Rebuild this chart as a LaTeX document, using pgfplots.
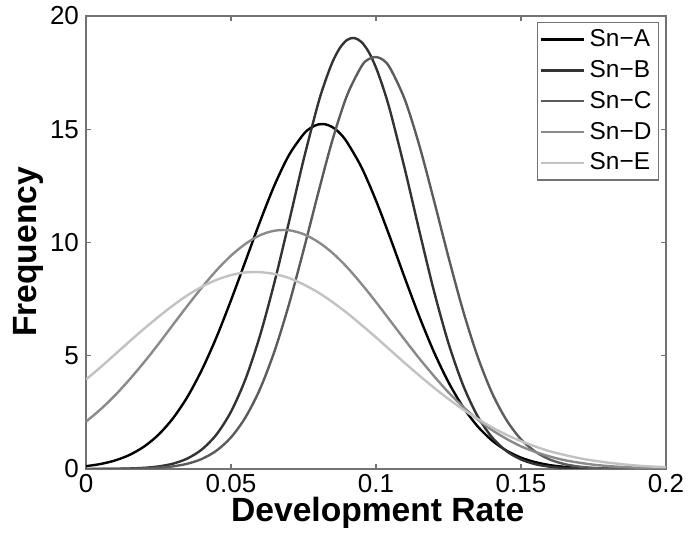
\documentclass[border=0pt]{standalone}
\usepackage{pgfplots}
\pgfplotsset{compat=1.18}
\usepackage{fontspec}
\setmainfont{Liberation Sans}

\definecolor{snA}{gray}{0.0}
\definecolor{snB}{gray}{0.2}
\definecolor{snC}{gray}{0.36}
\definecolor{snD}{gray}{0.54}
\definecolor{snE}{gray}{0.76}
\definecolor{axgray}{gray}{0.45}

\begin{document}
\begin{tikzpicture}
\begin{axis}[
    scale only axis,
    width=290pt, height=226.5pt,
    xmin=0, xmax=0.2, ymin=0, ymax=20,
    xtick={0,0.05,0.1,0.15,0.2},
    xticklabels={0,0.05,0.1,0.15,0.2},
    ytick={0,5,10,15,20},
    tick align=inside,
    major tick length=2.5pt,
    axis line style={axgray, line width=0.6pt},
    every tick/.style={axgray, line width=0.6pt},
    /pgf/number format/assume math mode=true,
    tick label style={font=\fontsize{13}{13}\selectfont},
    xticklabel style={yshift=1pt},
    xlabel={Development Rate},
    ylabel={Frequency},
    label style={font=\fontsize{16.8}{16.8}\selectfont\bfseries},
    xlabel style={at={(axis description cs:0.503,-0.097)}, anchor=center},
    ylabel style={at={(axis description cs:-0.1,0.479)}, anchor=center},
    legend style={at={(1,1)}, anchor=north east, xshift=-3.5pt, yshift=-3pt,
        font=\fontsize{12.2}{15}\selectfont, draw=axgray, line width=0.6pt,
        inner sep=1.5pt, row sep=1.4pt},
    legend cell align=left,
    legend image code/.code={\draw[#1, line width=1.2pt] (0pt,0pt) -- (21.5pt,0pt);},
    every axis plot/.append style={line width=1.2pt, smooth},
]
% Sn-A
\addplot[snA] coordinates {
(0,0.124) (0.005,0.220) (0.010,0.376) (0.015,0.621) (0.020,0.987)
(0.025,1.514) (0.030,2.24) (0.035,3.19) (0.040,4.39) (0.045,5.82)
(0.050,7.45) (0.055,9.18) (0.060,10.92) (0.065,12.53) (0.070,13.86)
(0.075,14.78) (0.0775,15.06) (0.080,15.21) (0.0825,15.22) (0.085,15.09)
(0.0875,14.83) (0.090,14.43)
(0.095,13.32) (0.100,11.85) (0.105,10.17) (0.110,8.41) (0.115,6.71)
(0.120,5.16) (0.125,3.83) (0.130,2.74) (0.135,1.89) (0.140,1.26)
(0.145,0.81) (0.150,0.50) (0.155,0.30) (0.160,0.17) (0.165,0.095)
(0.170,0.051) (0.175,0.026) (0.180,0.013) (0.185,0.006) (0.190,0.003)
(0.195,0.001) (0.200,0.0005)
};
\addlegendentry{Sn−A}
% Sn-B
\addplot[snB] coordinates {
(0,0.0012) (0.005,0.0034) (0.010,0.0088) (0.015,0.022) (0.020,0.051)
(0.025,0.113) (0.030,0.236) (0.035,0.465) (0.040,0.867) (0.045,1.524)
(0.050,2.53) (0.055,3.97) (0.060,5.89) (0.065,8.25) (0.070,10.91)
(0.075,13.64) (0.080,16.11) (0.0825,17.12) (0.085,17.97) (0.0875,18.58)
(0.090,18.94) (0.0925,19.03) (0.095,18.85) (0.0975,18.41) (0.100,17.72)
(0.1025,16.82) (0.105,15.75) (0.110,13.21) (0.115,10.48)
(0.120,7.85) (0.125,5.55) (0.130,3.71) (0.135,2.34) (0.140,1.40)
(0.145,0.79) (0.150,0.42) (0.155,0.21) (0.160,0.10) (0.165,0.045)
(0.170,0.019) (0.175,0.008) (0.180,0.003) (0.185,0.001) (0.190,0.0004)
(0.195,0.0001) (0.200,0)
};
\addlegendentry{Sn−B}
% Sn-C
\addplot[snC] coordinates {
(0,0.0006) (0.005,0.0016) (0.010,0.0042) (0.015,0.0105) (0.020,0.0247)
(0.025,0.055) (0.030,0.117) (0.035,0.234) (0.040,0.447) (0.045,0.811)
(0.050,1.395) (0.055,2.28) (0.060,3.53) (0.065,5.20) (0.070,7.27)
(0.075,9.65) (0.080,12.15) (0.085,14.53) (0.090,16.49) (0.095,17.78)
(0.0975,18.10) (0.100,18.19) (0.1025,18.06) (0.105,17.67) (0.110,16.29)
(0.115,14.26) (0.120,11.85)
(0.125,9.35) (0.130,7.00) (0.135,4.98) (0.140,3.36) (0.145,2.16)
(0.150,1.31) (0.155,0.76) (0.160,0.415) (0.165,0.216) (0.170,0.107)
(0.175,0.050) (0.180,0.022) (0.185,0.0095) (0.190,0.004) (0.195,0.0015)
(0.200,0.0006)
};
\addlegendentry{Sn−C}
% Sn-D
\addplot[snD] coordinates {
(0,2.09) (0.005,2.63) (0.010,3.25) (0.015,3.95) (0.020,4.71)
(0.025,5.52) (0.030,6.37) (0.035,7.21) (0.040,8.02) (0.045,8.77)
(0.050,9.42) (0.055,9.94) (0.060,10.32) (0.065,10.52)
(0.070,10.54) (0.075,10.37) (0.080,10.03) (0.085,9.54) (0.090,8.91)
(0.095,8.17) (0.100,7.37) (0.105,6.53) (0.110,5.69) (0.115,4.87)
(0.120,4.10) (0.125,3.38) (0.130,2.75) (0.135,2.19) (0.140,1.72)
(0.145,1.33) (0.150,1.00) (0.155,0.75) (0.160,0.55) (0.165,0.39)
(0.170,0.28) (0.175,0.19) (0.180,0.13) (0.185,0.088) (0.190,0.058)
(0.195,0.037) (0.200,0.024)
};
\addlegendentry{Sn−D}
% Sn-E
\addplot[snE] coordinates {
(0,3.95) (0.005,4.49) (0.010,5.06) (0.015,5.63) (0.020,6.19)
(0.025,6.72) (0.030,7.22) (0.035,7.67) (0.040,8.05) (0.045,8.35)
(0.050,8.56) (0.055,8.68) (0.060,8.69) (0.065,8.61)
(0.070,8.43) (0.075,8.15) (0.080,7.80) (0.085,7.37) (0.090,6.89)
(0.095,6.36) (0.100,5.81) (0.105,5.24) (0.110,4.67) (0.115,4.12)
(0.120,3.59) (0.125,3.09) (0.130,2.63) (0.135,2.22) (0.140,1.84)
(0.145,1.51) (0.150,1.23) (0.155,0.99) (0.160,0.78) (0.165,0.62)
(0.170,0.48) (0.175,0.37) (0.180,0.28) (0.185,0.21) (0.190,0.15)
(0.195,0.11) (0.200,0.08)
};
\addlegendentry{Sn−E}
\end{axis}
\path (current axis.south west) ++(-43pt,-33pt) coordinate (bbA);
\path (current axis.north east) ++(15pt,8pt) coordinate (bbB);
\path (bbA) rectangle (bbB);
\end{tikzpicture}
\end{document}
